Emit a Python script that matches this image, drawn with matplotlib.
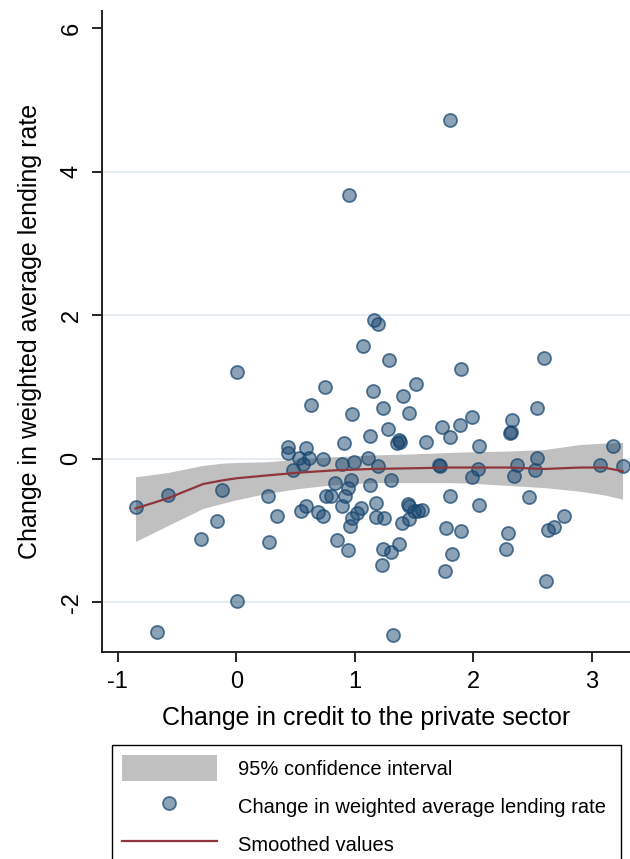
import matplotlib
matplotlib.use("Agg")
import matplotlib.pyplot as plt
from matplotlib.patches import Rectangle

plt.rcParams['font.family'] = ['Liberation Sans', 'DejaVu Sans']
plt.rcParams['axes.unicode_minus'] = False

# Observations: change in private-sector credit vs change in lending rate
credit_change = [
    0.01, 1.07, 0.75, 0.63, 0.98, 1.15, 1.13, 0.91, 0.44, 0.44,
    0.59, 0.53, 0.61, 0.73, 0.56, 0.48, 0.89, 0.99, 1.11, 1.13,
    0.97, 0.83, 0.94, 0.92, 0.76, 0.80, 0.89, -0.85, -0.58, -0.12,
    0.27, -0.16, 0.34, -0.30, 0.28, 0.55, 0.59, 0.69, 0.73, 0.85,
    0.94, 0.96, 0.98, 1.02, 1.05, 1.18, 0.01, -0.67, 1.16, 1.20,
    1.29, 1.90, 2.60, 1.52, 1.41, 1.24, 1.46, 2.54, 1.99, 1.74,
    1.89, 2.33, 2.32, 2.31, 1.28, 1.80, 1.37, 1.38, 1.36, 1.60,
    2.05, 3.18, 1.20, 1.71, 1.72, 2.04, 1.99, 2.37, 2.34, 2.54,
    2.52, 3.07, 3.26, 1.31, 1.80, 2.05, 2.47, 2.77, 2.68, 2.63,
    1.18, 1.25, 1.45, 1.46, 1.50, 1.53, 1.57, 1.455, 1.40, 1.77,
    1.90, 2.29, 1.37, 1.24, 1.31, 1.23, 1.82, 2.28, 1.76, 2.61,
    1.32, 1.80, 0.955,
]
rate_change = [
    1.21, 1.57, 1.00, 0.75, 0.62, 0.94, 0.32, 0.22, 0.16, 0.08,
    0.15, 0.01, 0.01, 0.00, -0.07, -0.15, -0.07, -0.05, 0.01, -0.37,
    -0.29, -0.33, -0.41, -0.51, -0.51, -0.51, -0.65, -0.67, -0.50, -0.44,
    -0.52, -0.86, -0.80, -1.12, -1.16, -0.72, -0.66, -0.74, -0.79, -1.13,
    -1.27, -0.93, -0.83, -0.76, -0.69, -0.62, -1.98, -2.41, 1.93, 1.88,
    1.38, 1.25, 1.41, 1.04, 0.875, 0.71, 0.64, 0.71, 0.59, 0.44,
    0.47, 0.54, 0.37, 0.36, 0.42, 0.30, 0.26, 0.23, 0.22, 0.23,
    0.18, 0.18, -0.10, -0.09, -0.10, -0.14, -0.25, -0.09, -0.24, 0.01,
    -0.15, -0.08, -0.10, -0.29, -0.52, -0.64, -0.53, -0.80, -0.95, -0.99,
    -0.81, -0.83, -0.63, -0.66, -0.72, -0.72, -0.71, -0.84, -0.89, -0.96,
    -1.00, -1.03, -1.19, -1.26, -1.30, -1.48, -1.33, -1.26, -1.56, -1.70,
    -2.45, 4.72, 3.67,
]

# Local polynomial smooth and its 95% confidence band
smooth_x = [-0.85, -0.58, -0.28, -0.12, 0.0, 0.26, 0.54, 0.82, 1.14, 1.5,
            1.8, 2.0, 2.3, 2.6, 2.9, 3.1, 3.26]
smooth_y = [-0.69, -0.55, -0.35, -0.30, -0.27, -0.23, -0.19, -0.16, -0.14, -0.13,
            -0.12, -0.12, -0.12, -0.14, -0.12, -0.12, -0.17]
band_lo = [-1.15, -0.93, -0.69, -0.62, -0.57, -0.48, -0.41, -0.36, -0.33, -0.33,
           -0.33, -0.34, -0.37, -0.40, -0.45, -0.50, -0.56]
band_hi = [-0.25, -0.19, -0.09, -0.06, -0.05, -0.04, 0.00, 0.03, 0.055, 0.07,
           0.09, 0.10, 0.11, 0.13, 0.20, 0.22, 0.23]

x_ticks = [-1, 0, 1, 2, 3]
y_ticks = [-2, 0, 2, 4, 6]
grid_levels = [-2, 0, 2, 4]

W, H = 630, 859
fig = plt.figure(figsize=(W / 100, H / 100), dpi=100)
fig.patch.set_facecolor('white')
ax = fig.add_axes([102 / W, (H - 652) / H, (W - 102) / W, (652 - 11) / H])

navy = '#1a476f'
maroon = '#90353b'

for g in grid_levels:
    ax.axhline(g, color='#e6edf1', lw=1.4, zorder=0)

band = ax.fill_between(smooth_x, band_lo, band_hi, color='#c0c0c0', lw=0, zorder=1,
                       label='95% confidence interval')
pts = ax.scatter(credit_change, rate_change, s=88,
                 facecolor=(0.102, 0.278, 0.435, 0.5),
                 edgecolor=(0.102, 0.278, 0.435, 0.72), linewidths=1.3, zorder=3,
                 label='Change in weighted average lending rate')
line, = ax.plot(smooth_x, smooth_y, color=maroon, lw=1.6, zorder=4,
                label='Smoothed values')

ax.set_xlim(-1.133, 3.323)
ax.set_ylim(-2.69, 6.24)
ax.set_xticks(x_ticks)
ax.set_yticks(y_ticks)
ax.set_yticklabels([str(v) for v in y_ticks], rotation=90, va='center')
ax.tick_params(axis='both', direction='out', length=7, width=1.2, colors='black',
               labelsize=17, pad=7)

for side in ('top', 'right'):
    ax.spines[side].set_visible(False)
for side in ('left', 'bottom'):
    ax.spines[side].set_linewidth(1.4)
    ax.spines[side].set_color('#222222')

ax.set_xlabel('Change in credit to the private sector', fontsize=18, labelpad=9)
ax.set_ylabel('Change in weighted average lending rate', fontsize=18, labelpad=13)

# Legend box runs past the bottom edge of the figure
fig.patches.append(Rectangle((112 / W, -0.05), (621 - 112) / W, 0.05 + (H - 745) / H,
                             transform=fig.transFigure, facecolor='white',
                             edgecolor='black', lw=1.0, zorder=0))

leg = fig.legend(handles=[band, pts, line],
                 loc='upper left',
                 bbox_to_anchor=(112 / W, 1 - 745 / H, (621 - 112) / W, 0.0),
                 mode='expand', fontsize=14.5, frameon=False,
                 borderpad=0.5, handlelength=4.7,
                 handleheight=1.6, handletextpad=1.05, labelspacing=0.6,
                 scatterpoints=1, borderaxespad=0)

fig.savefig('out.png', dpi=100, facecolor='white')
